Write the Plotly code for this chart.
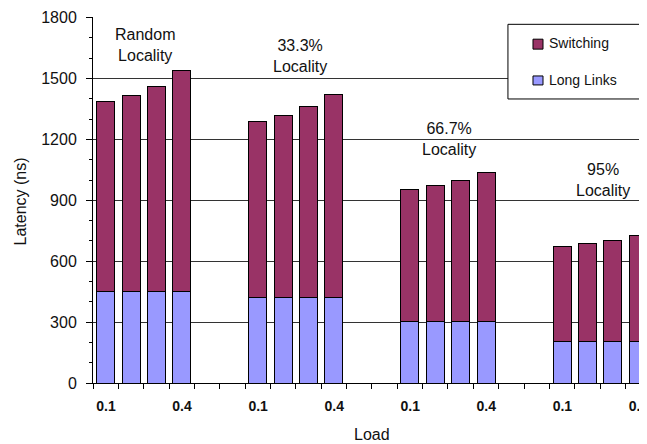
import plotly.graph_objects as go

groups = ["Random\nLocality", "33.3%\nLocality", "66.7%\nLocality", "95%\nLocality"]
loads = ["0.1", "0.2", "0.3", "0.4"]
series_names = ["Switching", "Long Links"]
series_colors = ["#993366", "#9999FF"]
# total latency (ns) per bar
totals = [
    [1385, 1415, 1460, 1540],
    [1290, 1320, 1360, 1420],
    [955, 975, 1000, 1035],
    [670, 685, 700, 725],
]
long_links = [
    [450, 450, 450, 450],
    [420, 420, 420, 420],
    [305, 305, 305, 305],
    [205, 205, 205, 205],
]
switching = [[t - l for t, l in zip(tg, lg)] for tg, lg in zip(totals, long_links)]

# x positions: 4 bars per group, 2 empty slots between groups
xs = []
for g in range(4):
    for i in range(4):
        xs.append(g * 6 + i)
ll_flat = [v for row in long_links for v in row]
sw_flat = [v for row in switching for v in row]

FONT = "Liberation Sans, Arial"
X_RANGE = [-0.5, 21.35]
PLOT_W = 639 - 85
SLOT_PX = PLOT_W / (X_RANGE[1] - X_RANGE[0])

fig = go.Figure()
fig.add_trace(go.Bar(x=xs, y=ll_flat, name=series_names[1], width=0.71,
                     marker=dict(color=series_colors[1], line=dict(color="#000000", width=1)),
                     showlegend=False))
fig.add_trace(go.Bar(x=xs, y=sw_flat, name=series_names[0], width=0.71,
                     marker=dict(color=series_colors[0], line=dict(color="#000000", width=1)),
                     showlegend=False))

# ticks on slot boundaries; labels shifted half a slot to sit under bars
tickvals = [k - 0.5 for k in range(23)]
ticktext = []
for k in range(23):
    if k % 6 == 0 and k < 22:
        ticktext.append("<b>%s</b>" % loads[0])
    elif k % 6 == 3:
        ticktext.append("<b>%s</b>" % loads[3])
    else:
        ticktext.append("")

ann_x = [1.55, 7.68, 13.53, 19.6]
ann_y = [1667, 1613, 1202, 1001]
for label, ax_, ay_ in zip(groups, ann_x, ann_y):
    fig.add_annotation(x=ax_, y=ay_, text=label.replace("\n", "<br>"), showarrow=False,
                       font=dict(family=FONT, size=16, color="#111"),
                       xref="x", yref="y")

fig.add_annotation(x=0.5036, y=-0.142, xref="paper", yref="paper", text="Load",
                   showarrow=False, xanchor="center", yanchor="middle",
                   font=dict(family=FONT, size=16, color="#111"))
fig.add_annotation(x=-0.1318, y=0.496, xref="paper", yref="paper", text="Latency (ns)",
                   showarrow=False, xanchor="center", yanchor="middle", textangle=-90,
                   font=dict(family=FONT, size=16, color="#111"))

# manual legend box
fig.add_shape(type="rect", xref="paper", yref="paper", x0=0.749, x1=0.9964, y0=0.776, y1=0.980,
              line=dict(color="#000", width=1), fillcolor="white", layer="above")
leg_y_sym = [(0.9122, 0.9394), (0.8144, 0.8389)]
leg_y_txt = [0.9285, 0.828]
for name, col, (y0, y1), yt in zip(series_names, series_colors, leg_y_sym, leg_y_txt):
    fig.add_shape(type="rect", xref="paper", yref="paper", x0=0.7942, x1=0.8123, y0=y0, y1=y1,
                  line=dict(color="#000", width=1), fillcolor=col, layer="above")
    fig.add_annotation(x=0.8195, y=yt, xref="paper", yref="paper", text=name, showarrow=False,
                       xanchor="left", yanchor="middle",
                       font=dict(family=FONT, size=14, color="#111"))

fig.update_layout(
    width=639, height=436,
    barmode="stack",
    plot_bgcolor="white", paper_bgcolor="white",
    margin=dict(l=85, r=0, t=9, b=61, pad=0, autoexpand=False),
    font=dict(family=FONT, size=14, color="#111"),
    showlegend=False,
    xaxis=dict(range=X_RANGE, tickmode="array", tickvals=tickvals, ticktext=ticktext,
               ticks="outside", ticklen=5, tickcolor="#000", tickwidth=1,
               ticklabelshift=int(round(SLOT_PX / 2)),
               showgrid=False, zeroline=False, ticklabelstandoff=5,
               ticklabeloverflow="allow",
               showline=True, linecolor="#000", linewidth=1,
               tickfont=dict(size=14)),
    yaxis=dict(range=[0, 1803], dtick=300, tick0=0, showgrid=True, gridcolor="#333", gridwidth=1,
               zeroline=False, showline=True, linecolor="#000", linewidth=1,
               ticks="outside", ticklen=6, tickcolor="#000", tickfont=dict(size=16),
               ticklabelstandoff=6, ticklabeloverflow="allow",
               minor=dict(dtick=100, ticks="outside", ticklen=3, tickcolor="#000", showgrid=False)),
)

fig.write_html("out.html")
